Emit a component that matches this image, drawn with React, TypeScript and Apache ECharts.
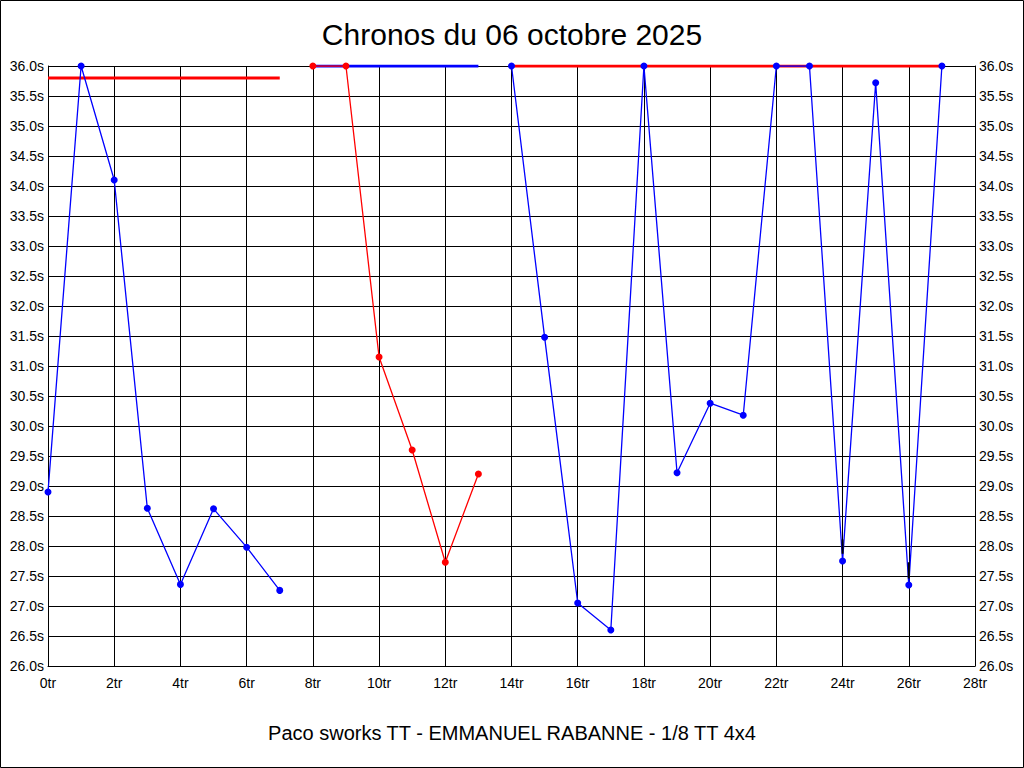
import React, { useEffect, useRef } from "react";
import * as echarts from "echarts";

const TITLE = "Chronos du 06 octobre 2025";
const SUBTITLE = "Paco sworks TT - EMMANUEL RABANNE - 1/8 TT 4x4";

const lapsA = [0, 1, 2, 3, 4, 5, 6, 7];
const timesA = [28.9, 36.0, 34.1, 28.63, 27.36, 28.62, 27.98, 27.26];

const lapsB = [8, 9, 10, 11, 12, 13];
const timesB = [36.0, 36.0, 31.15, 29.6, 27.73, 29.2];

const lapsC = [14, 15, 16, 17, 18, 19, 20, 21, 22, 23, 24, 25, 26, 27];
const timesC = [36.0, 31.48, 27.05, 26.6, 36.0, 29.22, 30.38, 30.18, 36.0, 36.0, 27.75, 35.72, 27.35, 36.0];

// reference levels: [fromLap, toLap, value]
const refA = [0, 7, 35.8];
const refB = [8, 13, 36.0];
const refC = [14, 27, 36.0];

// small black marks: [lap, top, bottom]
const blackMarks = [
  [24, 28.11, 27.87],
  [26, 27.73, 27.46],
];

const BLUE = "#0000ff";
const RED = "#ff0000";
const FONT = "'Liberation Sans', Arial, sans-serif";

const zip = (xs: number[], ys: number[]) => xs.map((x, i) => [x, ys[i]]);

export default function App() {
  const ref = useRef<HTMLDivElement>(null);
  useEffect(() => {
    if (!ref.current) return;
    const chart = echarts.init(ref.current, null, { renderer: "svg" });
    const refLine = (r: number[], color: string) => ({
      type: "line",
      data: [
        [r[0], r[2]],
        [r[1], r[2]],
      ],
      showSymbol: false,
      symbol: "none",
      lineStyle: { color, width: 3 },
      z: 2,
      silent: true,
    });
    const ptLine = (xs: number[], ys: number[], color: string) => ({
      type: "line",
      data: zip(xs, ys),
      symbol: "circle",
      symbolSize: 7,
      itemStyle: { color },
      lineStyle: { color, width: 1.3 },
      z: 3,
    });
    const blackData: any[] = [];
    blackMarks.forEach((m, i) => {
      if (i > 0) blackData.push([m[0], null]);
      blackData.push([m[0], m[1]]);
      blackData.push([m[0], m[2]]);
    });
    const yAxisBase = {
      type: "value",
      min: 26,
      max: 36,
      interval: 0.5,
      axisLine: { show: true, lineStyle: { color: "#000", width: 1 } },
      axisTick: { show: false },
      splitLine: { show: true, lineStyle: { color: "#000", width: 1 } },
      axisLabel: {
        color: "#000",
        fontFamily: FONT,
        fontSize: 14,
        margin: 4,
        formatter: (v: number) => v.toFixed(1) + "s",
      },
    };
    chart.setOption({
      animation: false,
      backgroundColor: "#fff",
      grid: { left: 48, right: 49, top: 66, bottom: 102, containLabel: false },
      xAxis: {
        type: "value",
        min: 0,
        max: 28,
        interval: 2,
        axisLine: { show: true, lineStyle: { color: "#000", width: 1 } },
        axisTick: { show: false },
        splitLine: { show: true, lineStyle: { color: "#000", width: 1 } },
        axisLabel: {
          color: "#000",
          fontFamily: FONT,
          fontSize: 14,
          margin: 10,
          formatter: (v: number) => v + "tr",
        },
      },
      yAxis: [
        { ...yAxisBase, position: "left" },
        { ...yAxisBase, position: "right", splitLine: { show: false } },
      ],
      series: [
        refLine(refA, RED),
        refLine(refB, BLUE),
        refLine(refC, RED),
        ptLine(lapsA, timesA, BLUE),
        ptLine(lapsB, timesB, RED),
        ptLine(lapsC, timesC, BLUE),
        {
          type: "line",
          data: blackData,
          showSymbol: false,
          symbol: "none",
          connectNulls: false,
          lineStyle: { color: "#000", width: 2 },
          z: 4,
        },
      ],
      graphic: [
        {
          type: "rect",
          shape: { x: 0.5, y: 0.5, width: 1023, height: 767 },
          style: { fill: "none", stroke: "#000", lineWidth: 1 },
          silent: true,
        },
        {
          type: "text",
          x: 512,
          y: 34,
          style: {
            text: TITLE,
            fill: "#000",
            font: `30px ${FONT}`,
            textAlign: "center",
            textVerticalAlign: "middle",
          },
        },
        {
          type: "text",
          x: 512,
          y: 733,
          style: {
            text: SUBTITLE,
            fill: "#000",
            font: `20px ${FONT}`,
            textAlign: "center",
            textVerticalAlign: "middle",
          },
        },
      ],
    });
    return () => chart.dispose();
  }, []);
  return (
    <div
      ref={ref}
      style={{ position: "fixed", left: 0, top: 0, width: 1024, height: 768 }}
    />
  );
}
